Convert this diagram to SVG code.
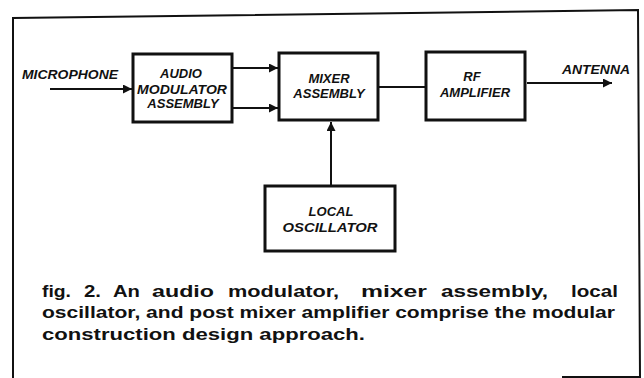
<svg xmlns="http://www.w3.org/2000/svg" width="644" height="378" viewBox="0 0 644 378">
<style>
.box{fill:#fff;stroke:#111;stroke-width:3}
.lbl{font-family:"Liberation Sans",Arial,sans-serif;font-weight:bold;font-style:italic;font-size:13px;fill:#111;text-anchor:middle}
.side{font-family:"Liberation Sans",Arial,sans-serif;font-weight:bold;font-style:italic;font-size:13px;fill:#111}
.cap{font-family:"Liberation Sans",Arial,sans-serif;font-weight:bold;font-size:17px;fill:#111}
.wire{fill:none;stroke:#111;stroke-width:2}
.frame{fill:none;stroke:#111;stroke-width:2}
</style>
<defs>
<marker id="arr" viewBox="0 0 10 10" refX="10" refY="5" markerWidth="4.5" markerHeight="4.5" orient="auto" markerUnits="strokeWidth">
<path d="M0,0 L10,5 L0,10 z" fill="#111"/>
</marker>
</defs>
<rect width="644" height="378" fill="#fff"/>
<path class="frame" d="M13,378 L13,18 L638,10 L640,378"/>
<path class="frame" d="M562,377 L640,377"/>
<g id="connectors">
<line class="wire" x1="50" y1="89" x2="132" y2="89" marker-end="url(#arr)"/>
<line class="wire" x1="233" y1="68" x2="278" y2="68" marker-end="url(#arr)"/>
<line class="wire" x1="233" y1="108" x2="278" y2="108" marker-end="url(#arr)"/>
<line class="wire" x1="379" y1="87" x2="425" y2="87"/>
<line class="wire" x1="527" y1="83" x2="612" y2="83" marker-end="url(#arr)"/>
<line class="wire" x1="331" y1="185" x2="331" y2="122" marker-end="url(#arr)"/>
</g>
<g id="microphone"><text class="side" x="22" y="79" textLength="96" lengthAdjust="spacingAndGlyphs">MICROPHONE</text></g>
<g id="antenna"><text class="side" x="562" y="74" textLength="68" lengthAdjust="spacingAndGlyphs">ANTENNA</text></g>
<g id="audio-modulator">
<rect class="box" x="133" y="54" width="99" height="68"/>
<text class="lbl" x="181" y="78">AUDIO</text>
<text class="lbl" x="182" y="94" textLength="90" lengthAdjust="spacingAndGlyphs">MODULATOR</text>
<text class="lbl" x="183" y="108">ASSEMBLY</text>
</g>
<g id="mixer">
<rect class="box" x="279" y="53" width="99" height="67"/>
<text class="lbl" x="329" y="83">MIXER</text>
<text class="lbl" x="329" y="98">ASSEMBLY</text>
</g>
<g id="rf-amplifier">
<rect class="box" x="426" y="52" width="99" height="68"/>
<text class="lbl" x="472" y="81">RF</text>
<text class="lbl" x="475" y="97">AMPLIFIER</text>
</g>
<g id="local-oscillator">
<rect class="box" x="265" y="186" width="130" height="65"/>
<text class="lbl" x="331" y="216">LOCAL</text>
<text class="lbl" x="330" y="232" textLength="95" lengthAdjust="spacingAndGlyphs">OSCILLATOR</text>
</g>
<g id="caption">
<text class="cap" y="297"><tspan x="42" textLength="29" lengthAdjust="spacingAndGlyphs">fig.</tspan> <tspan x="84" textLength="17" lengthAdjust="spacingAndGlyphs">2.</tspan> <tspan x="113" textLength="27" lengthAdjust="spacingAndGlyphs">An</tspan> <tspan x="152" textLength="62" lengthAdjust="spacingAndGlyphs">audio</tspan> <tspan x="228" textLength="111" lengthAdjust="spacingAndGlyphs">modulator,</tspan> <tspan x="361" textLength="66" lengthAdjust="spacingAndGlyphs">mixer</tspan> <tspan x="441" textLength="107" lengthAdjust="spacingAndGlyphs">assembly,</tspan> <tspan x="571" textLength="47" lengthAdjust="spacingAndGlyphs">local</tspan></text>
<text class="cap" x="42" y="318" textLength="573" lengthAdjust="spacingAndGlyphs">oscillator, and post mixer amplifier comprise the modular</text>
<text class="cap" x="42" y="340" textLength="323" lengthAdjust="spacingAndGlyphs">construction design approach.</text>
</g>
</svg>
